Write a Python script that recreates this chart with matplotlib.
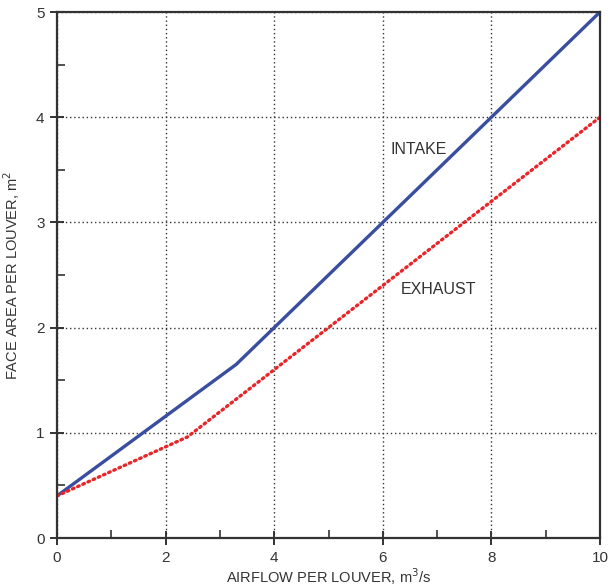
import matplotlib.pyplot as plt
from matplotlib.ticker import MultipleLocator

plt.rcParams['font.family'] = ['Liberation Sans', 'DejaVu Sans']

# data
intake_x = [0, 3.3, 10]
intake_y = [0.4, 1.65, 5.0]
exhaust_x = [0, 2.4, 10]
exhaust_y = [0.4, 0.96, 4.0]

fig = plt.figure(figsize=(6.10, 5.88), dpi=100)
ax = fig.add_axes([57 / 610, 50 / 588, 543 / 610, 526 / 588])

ax.plot(intake_x, intake_y, color='#3a4ea0', lw=2.4, solid_capstyle='round')
ax.plot(exhaust_x, exhaust_y, color='#e8262a', lw=2.4, linestyle=(0, (0.5, 1.2)),
        dash_capstyle='round')

ax.text(6.15, 3.69, 'INTAKE', fontsize=11.5, color='#333333', va='center')
ax.text(6.33, 2.36, 'EXHAUST', fontsize=11.5, color='#333333', va='center')

ax.set_xlim(0, 10)
ax.set_ylim(0, 5)
ax.xaxis.set_major_locator(MultipleLocator(2))
ax.xaxis.set_minor_locator(MultipleLocator(1))
ax.yaxis.set_major_locator(MultipleLocator(1))
ax.yaxis.set_minor_locator(MultipleLocator(0.5))
ax.grid(which='major', color='#333333', linestyle=(0, (1, 2)), lw=1.0)

for s in ax.spines.values():
    s.set_linewidth(1.6)
    s.set_color('#333333')
ax.tick_params(which='major', direction='inout', length=10, width=1.4,
               color='#333333', labelsize=11, labelcolor='#333333', pad=4)
ax.tick_params(which='minor', direction='in', length=6, width=1.2, color='#333333')

ax.set_xlabel('AIRFLOW PER LOUVER, m$^3$/s', fontsize=10.5, color='#333333', labelpad=1)
ax.set_ylabel('FACE AREA PER LOUVER, m$^2$', fontsize=10.5, color='#333333', labelpad=10)

fig.savefig('out.png', dpi=100)
